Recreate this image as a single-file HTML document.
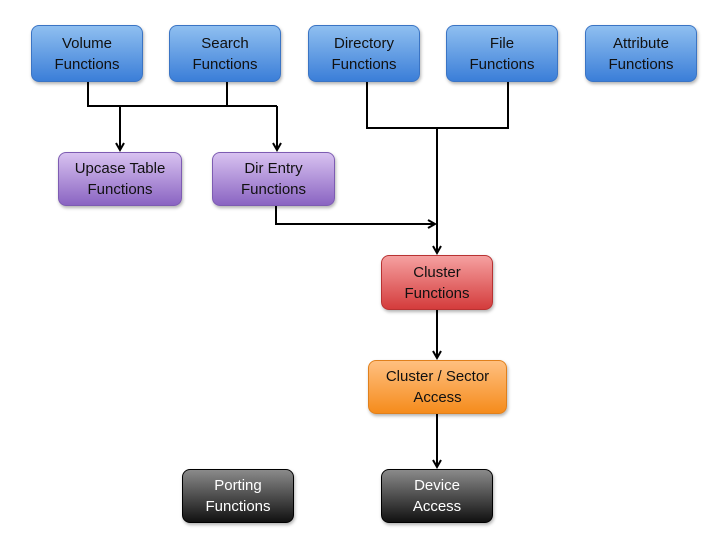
<!DOCTYPE html>
<html><head><style>
body{margin:0;width:720px;height:540px;background:#fff;position:relative;font-family:"Liberation Sans",sans-serif;overflow:hidden}
.b{position:absolute;border-radius:8px;display:flex;align-items:center;justify-content:center;text-align:center;font-size:15px;line-height:21px;box-sizing:border-box;box-shadow:1px 2px 3px rgba(0,0,0,.3)}
.bl{background:linear-gradient(#8fbff0,#3b7ed8);border:1px solid #3a74c4;color:#111}
.pu{background:linear-gradient(#d8c2f0,#8a64c2);border:1px solid #7d5cb2;color:#111}
.re{background:linear-gradient(#f5a0a0,#d43c3c);border:1px solid #b83232;color:#111}
.or{background:linear-gradient(#ffc080,#f58c1c);border:1px solid #e0801c;color:#111}
.bk{background:linear-gradient(#8a8a8a,#111);border:1px solid #000;color:#fff}
svg{position:absolute;left:0;top:0}
</style></head><body>
<svg width="720" height="540"><defs><marker id="a" markerWidth="10" markerHeight="10" refX="8" refY="5" orient="auto" markerUnits="userSpaceOnUse"><path d="M1,1 L8,5 L1,9" fill="none" stroke="#000" stroke-width="2"/></marker></defs>
<g stroke="#000" stroke-width="2" fill="none">
<path d="M88,82 V106 H277"/><path d="M227,82 V106"/>
<path d="M120,106 V150" marker-end="url(#a)"/><path d="M277,106 V150" marker-end="url(#a)"/>
<path d="M367,82 V128 H508 V82"/>
<path d="M437,128 V253" marker-end="url(#a)"/>
<path d="M276,206 V224 H435" marker-end="url(#a)"/>
<path d="M437,310 V358" marker-end="url(#a)"/>
<path d="M437,414 V467" marker-end="url(#a)"/>
</g></svg>
<div class="b bl" style="left:31px;top:25px;width:112px;height:57px">Volume<br>Functions</div>
<div class="b bl" style="left:169px;top:25px;width:112px;height:57px">Search<br>Functions</div>
<div class="b bl" style="left:308px;top:25px;width:112px;height:57px">Directory<br>Functions</div>
<div class="b bl" style="left:446px;top:25px;width:112px;height:57px">File<br>Functions</div>
<div class="b bl" style="left:585px;top:25px;width:112px;height:57px">Attribute<br>Functions</div>
<div class="b pu" style="left:58px;top:152px;width:124px;height:54px">Upcase Table<br>Functions</div>
<div class="b pu" style="left:212px;top:152px;width:123px;height:54px">Dir Entry<br>Functions</div>
<div class="b re" style="left:381px;top:255px;width:112px;height:55px">Cluster<br>Functions</div>
<div class="b or" style="left:368px;top:360px;width:139px;height:54px">Cluster / Sector<br>Access</div>
<div class="b bk" style="left:182px;top:469px;width:112px;height:54px">Porting<br>Functions</div>
<div class="b bk" style="left:381px;top:469px;width:112px;height:54px">Device<br>Access</div>
</body></html>
